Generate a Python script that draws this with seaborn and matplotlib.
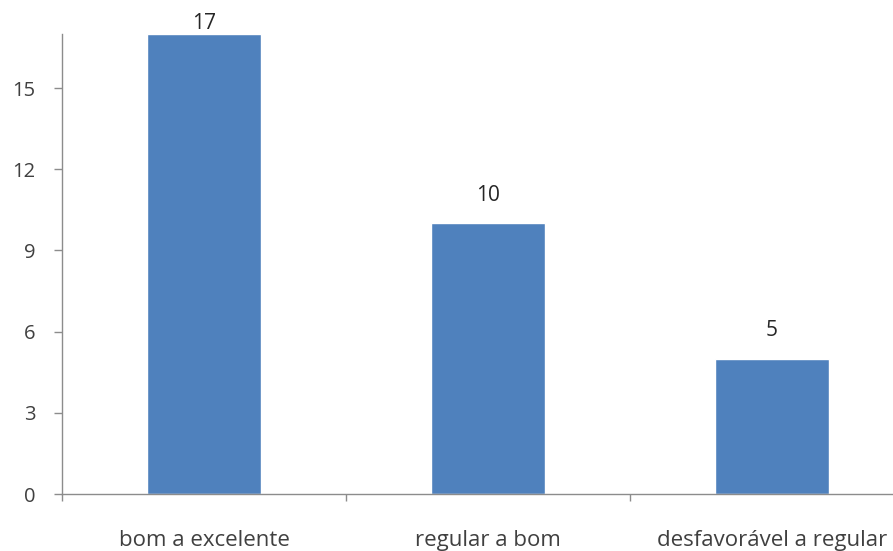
import matplotlib
matplotlib.use("Agg")
import matplotlib.pyplot as plt
import seaborn as sns
import pandas as pd

# data
categories = ["bom a excelente", "regular a bom", "desfavorável a regular"]
counts = [17, 10, 5]
y_ticks = [0, 3, 6, 9, 12, 15]

df = pd.DataFrame({"categoria": categories, "n": counts})

sns.set_style("white")
plt.rcParams["font.family"] = ["Open Sans", "DejaVu Sans"]

fig = plt.figure(figsize=(8.93, 5.51), dpi=100)
ax = fig.add_axes([0.0694, 0.1034, 0.9306, 0.8349])

sns.barplot(data=df, x="categoria", y="n", color="#4F81BD", width=0.4,
            saturation=1, ax=ax)

ax.set_xlim(-0.5, 2.426)
ax.set_ylim(0, 17)
ax.set_yticks(y_ticks)
ax.set_xlabel("")
ax.set_ylabel("")

# value labels above bars (top one squeezed against the edge like the original)
for i, v in enumerate(counts):
    ax.text(i, min(v + 1.05, 17.4), str(v), ha="center", va="center",
            fontsize=15, color="#262626", clip_on=False)

axis_col = "#8c8c8c"
for s in ["top", "right"]:
    ax.spines[s].set_visible(False)
for s in ["left", "bottom"]:
    ax.spines[s].set_color(axis_col)
    ax.spines[s].set_linewidth(1.0)

ax.tick_params(axis="y", length=6, width=1, color=axis_col, direction="out",
               labelsize=14.5, labelcolor="#404040", pad=13, left=True)
ax.tick_params(axis="x", which="major", length=0, labelsize=16,
               labelcolor="#404040", pad=26)
ax.set_xticks([-0.5, 0.5, 1.5], minor=True)
ax.tick_params(axis="x", which="minor", length=5, width=1, color=axis_col,
               direction="out", bottom=True)

plt.savefig("out.png", dpi=100)
